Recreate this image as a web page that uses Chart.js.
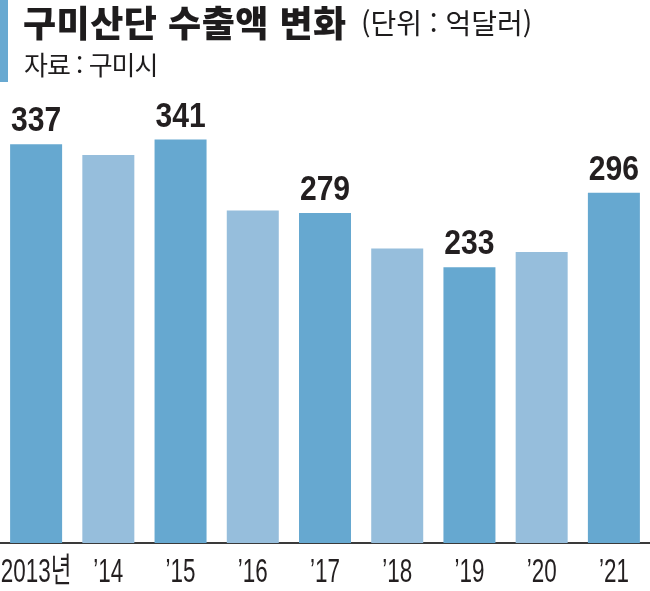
<!DOCTYPE html>
<html lang="ko">
<head>
<meta charset="utf-8">
<script src="https://cdn.jsdelivr.net/npm/chart.js@4.4.1/dist/chart.umd.min.js"></script>
<style>
  html, body { margin: 0; padding: 0; background: #fff; }
  #wrap { position: relative; width: 650px; height: 591px; overflow: hidden; }
  #chart { position: absolute; left: 0; top: 0; }
  .accent { position: absolute; left: 0; top: 0; width: 8px; height: 82px; background: #68a9d1; }
  .hd { position: absolute; white-space: nowrap; color: #1e1c1d; line-height: 1;
    font-family: 'Noto Sans CJK KR', sans-serif; }
  .title { left: 23px; top: 3px; font-size: 36px; font-weight: 900; letter-spacing: 0.5px; }
  .unit { left: 361px; top: 8px; font-size: 28px; font-weight: 400; letter-spacing: 0; }
  .source { left: 24px; top: 51px; font-size: 26px; font-weight: 400; letter-spacing: -1px; }
</style>
</head>
<body>
<div id="wrap">
  <canvas id="chart" width="650" height="591"></canvas>
  <div class="accent"></div>
  <div class="hd title">구미산단 수출액 변화</div>
  <div class="hd unit">(단위 : 억달러)</div>
  <div class="hd source">자료 : 구미시</div>
</div>
<script>
// 구미산단 수출액 (억달러)
const years = ['2013년', '’14', '’15', '’16', '’17', '’18', '’19', '’20', '’21'];
const exports = [337, 328, 341, 281, 279, 249, 233, 246, 296];
const showValue = [true, false, true, false, true, false, true, false, true];

const darkBlue = '#66a8d0';
const lightBlue = '#96bedc';
const sans = "'Liberation Sans', Arial, 'Noto Sans CJK KR', sans-serif";

// 좁은 글꼴이 없어서 가로로 눌러서 그림
function squeezedText(ctx, text, x, y, sx) {
  ctx.save();
  ctx.translate(x, y);
  ctx.scale(sx, 1);
  ctx.fillText(text, 0, 0);
  ctx.restore();
}

const condensedLabels = {
  id: 'condensedLabels',
  afterDraw(chart) {
    const ctx = chart.ctx;
    const meta = chart.getDatasetMeta(0);
    const xScale = chart.scales.x;

    // 막대 위 값 (홀수 연도만)
    ctx.save();
    ctx.font = 'bold 35px ' + sans;
    ctx.fillStyle = '#231f20';
    ctx.textAlign = 'center';
    ctx.textBaseline = 'alphabetic';
    meta.data.forEach((bar, i) => {
      if (!showValue[i]) return;
      squeezedText(ctx, String(exports[i]), bar.x, bar.y - 13, 0.86);
    });

    // x축 연도
    ctx.font = '34px ' + sans;
    years.forEach((label, i) => {
      squeezedText(ctx, label, xScale.getPixelForValue(i), xScale.bottom - 9, 0.66);
    });
    ctx.restore();
  }
};

new Chart(document.getElementById('chart'), {
  type: 'bar',
  plugins: [condensedLabels],
  data: {
    labels: years,
    datasets: [{
      data: exports,
      backgroundColor: exports.map((_, i) => (i % 2 === 0 ? darkBlue : lightBlue)),
      borderWidth: 0,
      categoryPercentage: 1,
      barPercentage: 0.72,
    }],
  },
  options: {
    responsive: false,
    animation: false,
    layout: { padding: 0 },
    plugins: {
      legend: { display: false },
      tooltip: { enabled: false },
    },
    scales: {
      x: {
        grid: { display: false },
        border: { display: true, color: '#3a3a3a', width: 2 },
        ticks: { display: false },
        afterFit(scale) {
          scale.height = 48;
          scale.paddingLeft = 0;
          scale.paddingRight = 0;
        },
      },
      y: {
        display: false,
        min: 0,
        max: 459,
      },
    },
  },
});
</script>
</body>
</html>
